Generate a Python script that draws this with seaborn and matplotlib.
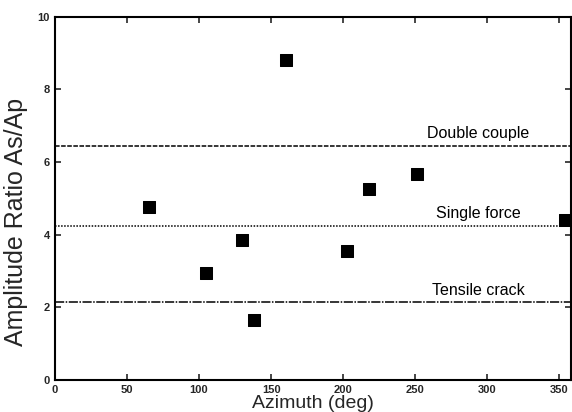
import matplotlib
matplotlib.use("Agg")
import matplotlib.pyplot as plt
import seaborn as sns
import pandas as pd

azimuth = [65, 105, 130, 138, 160, 203, 218, 251, 354]
ratio = [4.75, 2.95, 3.85, 1.65, 8.8, 3.55, 5.25, 5.67, 4.4]

model_names = ["Double couple", "Single force", "Tensile crack"]
model_values = [6.45, 4.25, 2.15]
model_styles = [(0, (3, 1)), (0, (1, 1)), (0, (6, 1, 1, 1))]
label_y = [6.78, 4.58, 2.45]
label_x = 294

sns.set_theme(style="ticks")
plt.rcParams["font.family"] = ["Liberation Sans", "DejaVu Sans"]

df = pd.DataFrame({"Azimuth": azimuth, "Ratio": ratio})

fig = plt.figure(figsize=(5.72, 4.12), dpi=100)
ax = fig.add_axes([0.096, 0.078, 0.902, 0.881])

for val, ls in zip(model_values, model_styles):
    ax.axhline(val, color="black", lw=1.1, linestyle=ls, zorder=1)
for name, ly in zip(model_names, label_y):
    ax.text(label_x, ly, name, ha="center", va="center", fontsize=11.5, color="black")

sns.scatterplot(data=df, x="Azimuth", y="Ratio", marker="s", s=85, color="black",
                edgecolor="black", ax=ax, zorder=3)

ax.set_xlim(0, 358)
ax.set_ylim(0, 10)
ax.set_xticks([0, 50, 100, 150, 200, 250, 300, 350])
ax.set_yticks([0, 2, 4, 6, 8, 10])
ax.tick_params(direction="in", top=True, right=True, length=4, width=1.2, labelsize=8)
for lab in ax.get_xticklabels() + ax.get_yticklabels():
    lab.set_fontweight("bold")
for sp in ax.spines.values():
    sp.set_linewidth(1.5)
    sp.set_color("black")
ax.set_xlabel("Azimuth (deg)", fontsize=14, labelpad=0)
ax.set_ylabel("Amplitude Ratio As/Ap", fontsize=18)
ax.yaxis.set_label_coords(-0.053, 0.435)

fig.savefig("out.png", dpi=100)
